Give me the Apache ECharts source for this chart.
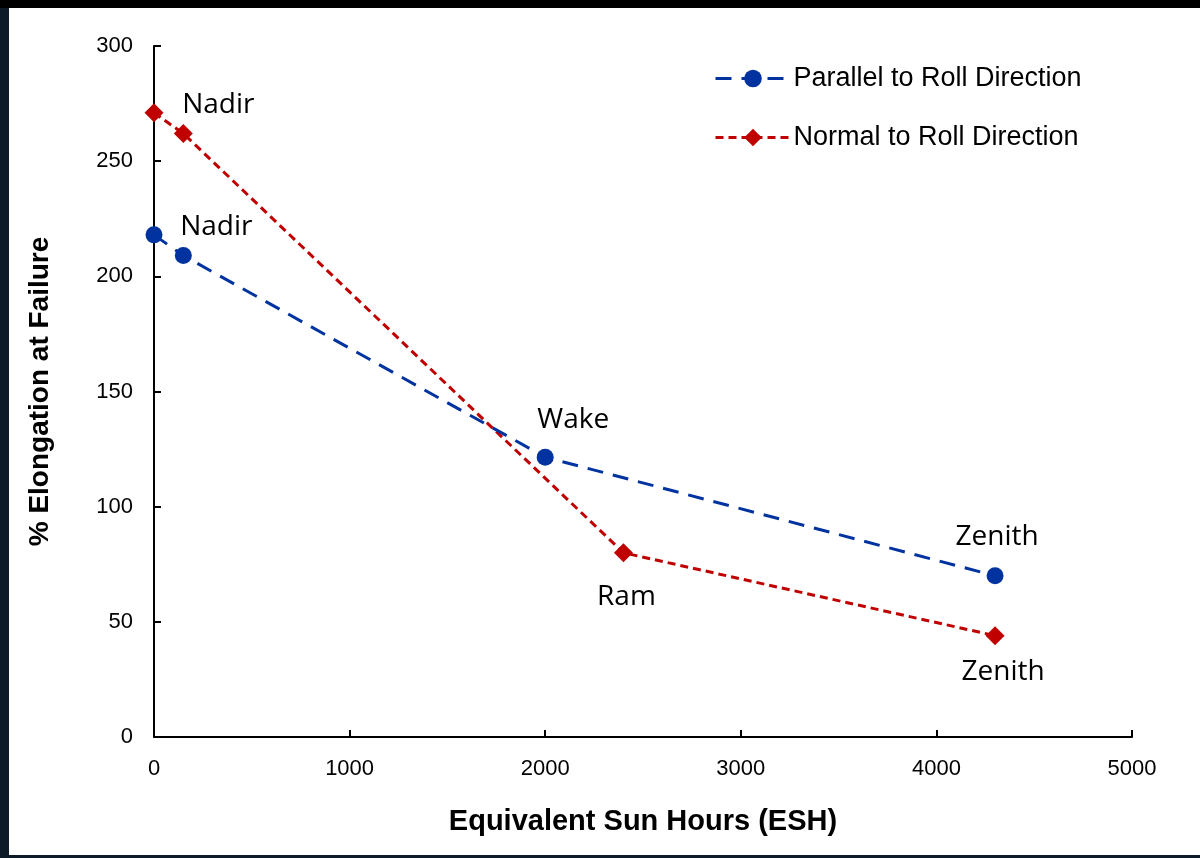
<!DOCTYPE html>
<html><head><meta charset="utf-8">
<script src="https://cdn.jsdelivr.net/npm/echarts@6/dist/echarts.min.js"></script>
<style>
html,body{margin:0;padding:0;width:1200px;height:858px;overflow:hidden;background:#0d1a28;}
#topband{position:absolute;left:0;top:0;width:1200px;height:8px;background:#000;}
#chart{position:absolute;left:9px;top:8px;width:1191px;height:847px;background:#fff;}
</style></head>
<body>
<div id="topband"></div>
<div id="chart"></div>
<script>
// Data
const parallelX = [0, 150, 2000, 4300];
const parallelY = [218, 209, 121.5, 70];
const parallelLabels = ['', 'Nadir', 'Wake', 'Zenith'];
const normalX = [0, 150, 2400, 4300];
const normalY = [271, 262, 80, 44];
const normalLabels = ['', 'Nadir', 'Ram', 'Zenith'];
const seriesNames = ['Parallel to Roll Direction', 'Normal to Roll Direction'];
const xTicks = [0, 1000, 2000, 3000, 4000, 5000];
const yTicks = [0, 50, 100, 150, 200, 250, 300];

// label offsets (style)
const parallelOffsets = [[0,0],[33,-29],[28,-37],[2,-39]];
const normalOffsets = [[0,0],[35,-28],[3,44],[8,36]];

function build(xs, ys, labels, offs) {
  return xs.map((x, i) => ({
    value: [x, ys[i]],
    label: {
      show: labels[i] !== '',
      formatter: labels[i],
      position: 'inside',
      offset: offs[i]
    }
  }));
}

const labelStyle = {fontFamily: 'Open Sans', fontSize: 28, color: '#000'};
const chart = echarts.init(document.getElementById('chart'));
chart.setOption({
  animation: false,
  backgroundColor: '#fff',
  grid: {left: 145, right: 68, top: 38, bottom: 118},
  legend: {
    orient: 'vertical',
    left: 705, top: 57, padding: 0,
    itemWidth: 75, itemHeight: 22, itemGap: 32,
    lineStyle: {width: 3},
    textStyle: {fontFamily: 'Liberation Sans', fontSize: 27, color: '#000', padding: [0,0,0,-2]},
    data: seriesNames
  },
  xAxis: {
    type: 'value', min: 0, max: 5000, interval: 1000,
    name: 'Equivalent Sun Hours (ESH)', nameLocation: 'middle', nameGap: 70,
    nameTextStyle: {fontFamily: 'Liberation Sans', fontSize: 29, fontWeight: 'bold', color: '#000'},
    axisLine: {lineStyle: {color: '#000', width: 2}},
    axisTick: {inside: true, length: 7, lineStyle: {color: '#000', width: 2}},
    axisLabel: {fontFamily: 'Liberation Sans', fontSize: 22, color: '#000', margin: 21,
      formatter: v => xTicks.includes(v) ? String(v) : ''},
    splitLine: {show: false}
  },
  yAxis: {
    type: 'value', min: 0, max: 300, interval: 50,
    name: '% Elongation at Failure', nameLocation: 'middle', nameGap: 100, nameRotate: 90,
    nameTextStyle: {fontFamily: 'Liberation Sans', fontSize: 28, fontWeight: 'bold', color: '#000'},
    axisLine: {show: true, lineStyle: {color: '#000', width: 2}},
    axisTick: {show: true, inside: true, length: 7, lineStyle: {color: '#000', width: 2}},
    axisLabel: {fontFamily: 'Liberation Sans', fontSize: 22, color: '#000', margin: 21,
      formatter: v => yTicks.includes(v) ? String(v) : ''},
    splitLine: {show: false}
  },
  series: [
    {
      name: seriesNames[0], type: 'line',
      data: build(parallelX, parallelY, parallelLabels, parallelOffsets),
      symbol: 'circle', symbolSize: 17,
      itemStyle: {color: '#0033a0'},
      lineStyle: {color: '#0033a0', width: 3, type: [16, 10]},
      label: labelStyle,
      z: 3
    },
    {
      name: seriesNames[1], type: 'line',
      data: build(normalX, normalY, normalLabels, normalOffsets),
      symbol: 'diamond', symbolSize: 19,
      itemStyle: {color: '#c00000'},
      lineStyle: {color: '#c00000', width: 3, type: [8, 5]},
      label: labelStyle,
      z: 2
    }
  ]
});
</script>
</body></html>
